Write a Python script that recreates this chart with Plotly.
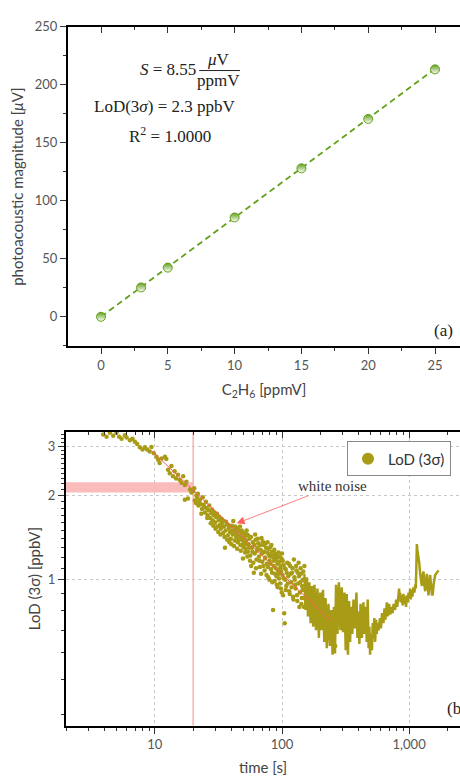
import math
import plotly.graph_objects as go

# ---------------- Panel (a) data ----------------
conc_ppmv = [0, 3, 5, 10, 15, 20, 25]
pa_signal_uv = [0.0, 25.3, 42.4, 85.6, 128.0, 170.6, 213.3]
fit_conc = [0, 25]
fit_signal = [0.0, 213.75]

# ---------------- Panel (b) data ----------------
time_s = [3.92, 4.17, 4.43, 4.70, 4.99, 5.24, 5.47, 5.81, 5.99, 6.36, 6.67, 6.96, 7.26, 7.62, 8.00,
          8.34, 8.70, 9.10, 9.40, 9.80,
          10.3, 10.6, 10.9, 11.3, 12.0, 12.3, 12.7, 13.1, 13.5, 13.9, 14.3, 14.7, 15.2, 15.7, 16.2,
          16.7, 17.2, 17.7, 17.2, 18.2, 18.9, 19.4, 20.0, 20.6, 21.2,
          21.5, 22.0, 22.3, 23.0, 23.5, 24.2, 24.8, 25.5, 26.0, 26.5, 27.2, 27.8, 28.5, 29.0, 29.8,
          30.5, 31.0, 31.8, 32.5, 33.0, 33.8, 34.5, 35.0, 35.6, 36.0, 36.8, 37.5, 38.2, 39.0, 39.6,
          40.3, 41.0, 41.8, 42.5, 43.2, 44.0, 44.8, 45.5, 46.3, 47.0, 47.8, 48.5, 49.3, 50.0, 50.8,
          51.5, 52.3, 53.0, 53.8, 54.6, 55.5, 56.3, 57.2, 58.0, 59.0, 60.0, 61.0, 62.0, 63.0, 64.0,
          65, 66, 67, 68, 69, 70, 71, 72, 73, 74, 75, 76, 77, 78, 79, 80, 81, 82, 83, 84, 85, 85.5,
          86, 87, 88, 89, 90, 91, 92, 93, 94, 95, 96, 97, 98, 99, 100, 101, 102, 103, 104, 105, 106,
          107, 108, 110, 112, 114, 116, 118, 120, 122, 124, 126, 128, 130, 132, 134, 135, 136, 138,
          140, 142, 144, 146, 148, 150,
          155, 162, 170, 178, 186, 192, 198, 206, 212, 222, 228, 236, 242, 248, 255, 262,
          20.4, 21.0, 21.8, 22.6, 23.2, 23.8, 24.5, 25.2, 25.8, 26.8, 27.5, 28.2, 28.8, 29.4, 30.0,
          30.8, 31.5, 32.0, 32.8, 33.5, 34.0, 34.8, 35.3, 36.3, 37.0, 37.8, 38.6, 39.3, 40.0, 40.7,
          41.4, 42.0, 42.8, 43.6, 44.4, 45.1, 45.9, 46.7,
          47.4, 48.2, 49.0, 49.7, 50.4, 51.2, 52.0, 52.7, 53.4, 54.2, 55.0, 56.0, 57.0, 58.5, 59.5,
          60.5, 61.5, 62.5, 63.5, 64.5, 66.5, 67.5, 68.5, 69.5, 70.5,
          71.5, 72.5, 73.5, 74.5, 75.5, 76.5, 77.5, 78.5, 79.5, 80.5, 81.5, 82.5, 83.5, 84.5, 86.5,
          87.5, 88.5, 89.5, 90.5, 91.5, 92.5, 93.5, 94.5, 95.5, 96.5, 97.5, 98.5, 99.5,
          101.5, 103, 105, 107, 109, 111, 113, 115, 117, 119, 121, 123, 125, 127, 129, 131, 133, 137,
          139, 141, 143, 145, 147, 149]
lod_ppbv = [3.30, 3.24, 3.35, 3.27, 3.35, 3.24, 3.19, 3.28, 3.22, 3.15, 3.19, 3.11, 3.05, 2.97, 2.92,
            2.97, 2.92, 2.87, 2.98, 2.83,
            2.75, 2.68, 2.61, 2.71, 2.75, 2.70, 2.47, 2.40, 2.55, 2.34, 2.44, 2.30, 2.37, 2.27, 2.22,
            2.34, 2.18, 2.24, 1.93, 1.95, 2.10, 2.05, 2.07, 1.92, 2.00,
            1.96, 1.84, 1.90, 1.86, 1.79, 1.85, 1.74, 1.80, 1.70, 1.77, 1.66, 1.73, 1.63, 1.70, 1.60,
            1.67, 1.55, 1.63, 1.57, 1.52, 1.60, 1.47, 1.55, 1.30, 1.50, 1.58, 1.44, 1.53, 1.48, 1.40,
            1.56, 1.45, 1.50, 1.38, 1.47, 1.53, 1.36, 1.44, 1.49, 1.33, 1.41, 1.46, 1.19, 1.35, 1.42,
            1.29, 1.38, 1.45, 1.26, 1.34, 1.40, 1.22, 1.12, 1.30, 1.36, 1.06, 1.24, 1.39, 1.18, 1.30,
            1.35, 1.21, 1.11, 1.28, 1.41, 1.16, 1.25, 1.33, 1.08, 1.20, 1.30, 1.14, 1.36, 1.02, 1.23,
            1.17, 1.31, 1.09, 1.26, 0.98, 0.78, 1.20,
            1.12, 1.28, 1.05, 1.18, 1.22, 0.96, 1.14, 1.08, 1.25, 1.01, 1.16, 1.10, 0.93, 1.19, 1.24,
            1.04, 0.88, 1.13, 0.76, 0.70, 1.00,
            1.09, 0.95, 1.15, 1.03, 0.91, 1.12, 0.98, 1.06, 0.87, 1.18, 1.00, 0.93, 1.08, 0.84, 0.97,
            1.15, 1.03, 0.90,
            1.10, 0.82, 0.95, 1.00, 0.86, 1.12,
            0.90, 0.85, 0.88, 0.80, 0.76, 0.84, 0.72, 0.78, 0.70, 0.74, 0.66, 0.70, 0.64, 0.60, 0.66, 0.58,
            2.12, 1.88, 2.03, 1.93, 1.72, 1.97, 1.82, 1.90, 1.66, 1.84, 1.59, 1.78, 1.56, 1.74, 1.52,
            1.72, 1.48, 1.68, 1.45, 1.65, 1.55, 1.62, 1.42, 1.61, 1.39, 1.57, 1.36, 1.55, 1.34, 1.50,
            1.62, 1.32, 1.55, 1.42, 1.29, 1.51, 1.39, 1.55,
            1.27, 1.50, 1.38, 1.31, 1.47, 1.25, 1.34, 1.50, 1.21, 1.44, 1.30, 1.17, 1.42, 1.26, 1.15,
            1.33, 1.45, 1.10, 1.27, 1.40, 1.17, 1.33, 1.05, 1.24, 1.37,
            1.12, 1.26, 1.19, 1.35, 1.04, 1.25, 1.11, 1.29, 1.00, 1.21, 1.14, 1.33, 1.06, 1.22, 1.17,
            0.99, 1.24, 1.10, 1.03, 1.20, 0.94, 1.16, 1.05, 1.21, 0.97, 1.12, 1.07, 0.90,
            1.17, 1.01, 1.10, 0.92, 1.06, 0.97, 1.14, 0.89, 1.05, 0.94, 1.10, 0.85, 1.02, 0.96, 1.12,
            0.88, 1.06, 0.80, 0.98, 1.05, 0.86, 0.92, 1.07, 0.80]

trace_time_s = [150, 153, 157, 160, 164, 168, 172, 176, 180, 185, 190, 195, 200, 205, 210, 215, 220,
                225, 232, 238, 244, 250, 256, 261, 266, 273, 280, 288, 295, 302, 310, 317, 323, 330,
                337, 343, 350, 357, 365, 375, 385, 392, 399, 406, 415, 425, 437, 445, 455, 464, 472,
                480, 487, 493, 500, 510, 517, 524, 532, 540, 550, 557, 565, 575, 590, 600, 612, 628,
                640, 650, 668, 680, 695, 709, 720, 740, 755, 776, 790, 805, 820, 834, 842, 849, 860,
                875, 890, 902, 915, 930, 945, 959, 975, 990, 1005, 1018, 1030, 1045, 1060, 1082, 1100,
                1118, 1129, 1140, 1150, 1160, 1183, 1200, 1221, 1240, 1259, 1275, 1297, 1317, 1337,
                1357, 1378, 1398, 1420, 1440, 1463, 1490, 1515, 1535, 1560, 1603, 1650, 1702]
trace_lod_ppbv = [1.05, 0.78, 1.02, 0.74, 0.98, 0.70, 0.95, 0.68, 0.96, 0.66, 0.93, 0.62, 0.90, 0.66,
                  0.92, 0.60, 0.86, 0.57, 0.82, 0.58, 0.78, 0.54, 0.80, 0.545, 0.96, 0.64, 0.98, 0.66,
                  0.94, 0.65, 0.90, 0.56, 0.89, 0.54, 0.84, 0.60, 0.80, 0.64, 0.85, 0.67, 0.90, 0.62,
                  0.77, 0.59, 0.82, 0.62, 0.83, 0.64, 0.80, 0.60, 0.85, 0.57, 0.68, 0.54, 0.64, 0.56,
                  0.70, 0.62, 0.73, 0.60, 0.72, 0.64, 0.70, 0.66, 0.73, 0.67, 0.76, 0.70, 0.79, 0.72,
                  0.83, 0.74, 0.82, 0.75, 0.80, 0.76, 0.82, 0.78, 0.85, 0.80, 0.86, 0.93, 0.84, 0.90,
                  0.83, 0.88, 0.81, 0.89, 0.82, 0.87, 0.80, 0.88, 0.83, 0.90, 0.86, 0.93, 0.85, 0.92,
                  0.87, 0.94, 0.90, 0.96, 0.93, 1.32, 1.34, 1.28, 1.22, 1.15, 1.05, 1.00, 0.95, 1.03,
                  1.07, 0.96, 0.91, 0.98, 1.05, 0.95, 0.88, 0.97, 1.04, 0.94, 0.88, 0.89, 0.97, 1.04,
                  1.06, 1.08]

wn_fit_time = [9.42, 246]
wn_fit_lod = [2.89, 0.709]
marker_time = [20, 20]
marker_lod_span = [0.3, 3.4]
band_time = [2.0, 20, 20, 2.0]
band_lod = [2.05, 2.05, 2.23, 2.23]

GREEN = "#62a01a"
OLIVE = "#a89c16"
SANS = "Lato, 'DejaVu Sans', sans-serif"
SERIF = "'Liberation Serif', 'DejaVu Serif', serif"
TICKFONT = dict(family=SANS, size=13, color="#555")

fig = go.Figure()

# panel (a)
fig.add_trace(go.Scatter(x=fit_conc, y=fit_signal, mode="lines", xaxis="x", yaxis="y",
                         line=dict(color=GREEN, width=1.8, dash="6px,4px"), showlegend=False,
                         hoverinfo="skip"))
fig.add_trace(go.Scatter(x=conc_ppmv, y=pa_signal_uv, mode="markers", xaxis="x", yaxis="y",
                         marker=dict(symbol="circle", size=9, color=GREEN,
                                     gradient=dict(type="vertical", color="white"),
                                     line=dict(color=GREEN, width=1)),
                         showlegend=False))
fig.add_trace(go.Scatter(x=[], y=[], xaxis="x3", yaxis="y", showlegend=False))

# panel (b)
fig.add_trace(go.Scatter(x=band_time, y=band_lod, mode="lines", fill="toself", xaxis="x2", yaxis="y2",
                         fillcolor="rgba(250,180,180,0.9)", line=dict(width=0), showlegend=False,
                         hoverinfo="skip"))
fig.add_trace(go.Scatter(x=marker_time, y=marker_lod_span, mode="lines", xaxis="x2", yaxis="y2",
                         line=dict(color="#ffb0b0", width=1.5), showlegend=False, hoverinfo="skip"))
fig.add_trace(go.Scatter(x=trace_time_s, y=trace_lod_ppbv, mode="lines", xaxis="x2", yaxis="y2",
                         line=dict(color=OLIVE, width=2.5), showlegend=False))
fig.add_trace(go.Scatter(x=time_s, y=lod_ppbv, mode="markers", xaxis="x2", yaxis="y2",
                         marker=dict(color=OLIVE, size=4.5), name="LoD (3σ)", showlegend=True))
fig.add_trace(go.Scatter(x=wn_fit_time, y=wn_fit_lod, mode="lines", xaxis="x2", yaxis="y2",
                         line=dict(color="#ff5a5a", width=1), showlegend=False, hoverinfo="skip"))
fig.add_trace(go.Scatter(x=[], y=[], xaxis="x4", yaxis="y2", showlegend=False))

axis_common = dict(showline=True, linecolor="black", linewidth=2, tickcolor="#333", tickwidth=1.2,
                   tickfont=TICKFONT, zeroline=False)

fig.update_layout(
    width=460, height=776, autosize=False,
    margin=dict(l=0, r=0, t=0, b=0),
    paper_bgcolor="white", plot_bgcolor="white",
    xaxis=dict(domain=[68/460, 1.0], anchor="y", range=[-2.47, 26.87], tickmode="linear", tick0=0, dtick=5,
               ticks="outside", ticklen=6, mirror=True, showgrid=False,
               minor=dict(ticks="outside", ticklen=3, dtick=2.5, tick0=0, tickcolor="#333"),
               title=dict(text="C<sub>2</sub>H<sub>6</sub> [ppmV]", font=dict(family=SANS, size=15, color="#444"), standoff=12),
               **axis_common),
    xaxis3=dict(overlaying="x", anchor="y", side="top", range=[-2.47, 26.87], tickmode="linear", tick0=0,
                dtick=5, ticks="inside", ticklen=6, tickcolor="#333", tickwidth=1.2, showticklabels=False,
                showgrid=False, showline=False, zeroline=False,
                minor=dict(ticks="inside", ticklen=3, dtick=2.5, tick0=0, tickcolor="#333")),
    yaxis=dict(domain=[1 - 342/776, 1 - 19/776], anchor="x", range=[-25.6, 250], tickmode="linear", tick0=0,
               dtick=50, ticks="outside", ticklen=6, showgrid=False,
               minor=dict(ticks="outside", ticklen=3, dtick=25, tick0=0, tickcolor="#333"),
               title=dict(text="photoacoustic magnitude [<i>μ</i>V]", font=dict(family=SANS, size=15, color="#444"), standoff=8),
               **axis_common),
    xaxis2=dict(domain=[66/460, 1.0], anchor="y2", type="log", range=[0.301, 3.40],
                tickvals=[10, 100, 1000], ticktext=["10", "100", "1,000"],
                ticks="outside", ticklen=6, mirror=True,
                showgrid=True, gridcolor="#c8c8c8", griddash="dot", gridwidth=1,
                minor=dict(ticks="outside", ticklen=3, tickcolor="#333",
                           tickvals=[2, 3, 4, 5, 6, 7, 8, 9, 20, 30, 40, 50, 60, 70, 80, 90,
                                     200, 300, 400, 500, 600, 700, 800, 900, 2000]),
                title=dict(text="time [s]", font=dict(family=SANS, size=15, color="#444"), standoff=12),
                **axis_common),
    xaxis4=dict(overlaying="x2", anchor="y2", side="top", type="log", range=[0.301, 3.40],
                tickvals=[10, 100, 1000], ticks="inside", ticklen=6, tickcolor="#333", tickwidth=1.2,
                showticklabels=False, showgrid=False, showline=False, zeroline=False,
                minor=dict(ticks="inside", ticklen=3, tickcolor="#333",
                           tickvals=[2, 3, 4, 5, 6, 7, 8, 9, 20, 30, 40, 50, 60, 70, 80, 90,
                                     200, 300, 400, 500, 600, 700, 800, 900, 2000])),
    yaxis2=dict(domain=[1 - 725/776, 1 - 428/776], anchor="x2", type="log", range=[-0.5205, 0.529],
                tickvals=[1, 2, 3], ticktext=["1", "2", "3"], ticks="outside", ticklen=6,
                showgrid=True, gridcolor="#c8c8c8", griddash="dot", gridwidth=1,
                minor=dict(ticks="outside", ticklen=3, tickcolor="#333",
                           tickvals=[0.33, 0.44, 0.55, 0.66, 0.775, 0.89, 1.1, 1.2, 1.3, 1.4, 1.5, 1.6, 1.7,
                                     1.8, 1.9, 2.1, 2.2, 2.3, 2.4, 2.5, 2.6, 2.7, 2.8, 2.9, 3.1, 3.2, 3.3]),
                title=dict(text="LoD (3σ) [ppbV]", font=dict(family=SANS, size=15, color="#444"), standoff=4),
                **axis_common),
    legend=dict(x=451/460, xanchor="right", y=1 - 438/776, yanchor="top", bgcolor="white",
                bordercolor="#888", borderwidth=1, font=dict(family=SANS, size=15, color="#333"),
                itemsizing="constant"),
)

ann_font = dict(family=SERIF, size=17, color="#222")
fig.add_annotation(x=7.26, y=213.3, xref="x", yref="y", text="<i>S</i> = 8.55", showarrow=False,
                   xanchor="right", font=ann_font)
fig.add_annotation(x=8.83, y=221.5, xref="x", yref="y", text="<i>μ</i>V", showarrow=False, font=ann_font)
fig.add_annotation(x=8.83, y=203.5, xref="x", yref="y", text="ppmV", showarrow=False, font=ann_font)
fig.add_shape(type="line", xref="x", yref="y", x0=7.35, x1=10.4, y0=212.3, y1=212.3,
              line=dict(color="#222", width=1))
fig.add_annotation(x=4.75, y=181.7, xref="x", yref="y", text="LoD(3<i>σ</i>) = 2.3 ppbV", showarrow=False,
                   font=ann_font)
fig.add_annotation(x=5.2, y=157, xref="x", yref="y", text="R<sup>2</sup> = 1.0000", showarrow=False,
                   font=ann_font)
fig.add_annotation(x=25.6, y=-12, xref="x", yref="y", text="(a)", showarrow=False, font=ann_font)

fig.add_annotation(x=math.log10(44), y=math.log10(1.59), xref="x2", yref="y2", text="white noise",
                   showarrow=True, ax=96, ay=-37, arrowcolor="#ff6060", arrowwidth=0.8, arrowhead=2,
                   arrowsize=2, font=dict(family=SERIF, size=15, color="#333"))
fig.add_annotation(x=445/460, y=1 - 708/776, xref="paper", yref="paper", text="(b)", showarrow=False,
                   xanchor="left", yanchor="middle", font=ann_font)

fig.write_html("out.html", config={"displayModeBar": False},
               post_script="document.body.style.margin='0px';")
